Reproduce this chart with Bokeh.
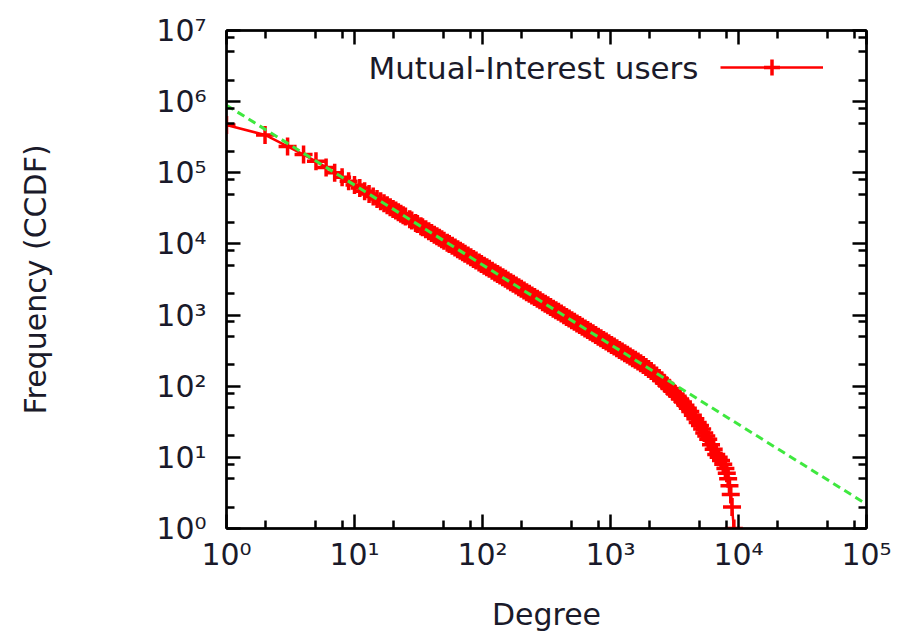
from bokeh.plotting import figure
from bokeh.models import Range1d, FixedTicker, LogAxis, Label, Legend, LegendItem
from bokeh.embed import file_html
from bokeh.resources import INLINE

# ---- data ----
degree = [1, 2, 3, 4, 5, 6, 7, 8, 9, 10,
          11, 12, 13, 14, 15, 16, 17, 18, 19, 20,
          21, 22, 23, 24, 25, 27, 28, 30, 31, 33,
          34, 36, 38, 40, 42, 44, 46, 48, 50, 53,
          55, 58, 61, 64, 67, 70, 73, 77, 81, 85,
          89, 94, 98, 103, 108, 113, 119, 125, 131, 137,
          144, 151, 158, 166, 174, 183, 192, 201, 211, 221,
          232, 243, 255, 268, 281, 295, 309, 324, 340, 357,
          374, 392, 412, 432, 453, 475, 498, 522, 547, 574,
          602, 632, 663, 695, 729, 765, 802, 841, 882, 925,
          970, 1018, 1068, 1120, 1175, 1232, 1292, 1355, 1421, 1490,
          1563, 1640, 1720, 1804, 1892, 1984, 2080, 2180, 2290, 2400,
          2520, 2640, 2770, 2900, 3050, 3200, 3350, 3500, 3680, 3850,
          4020, 4200, 4400, 4600, 4800, 5000, 5200, 5400, 5600, 5800,
          6100, 6400, 6700, 7000, 7300, 7600, 7900, 8100, 8300, 8500,
          8700, 8900, 9200]
ccdf = [470000, 340000, 235000, 180000, 145000, 119000, 100000, 86500, 76000, 67500,
        61000, 55000, 50500, 46300, 42800, 39800, 37200, 34900, 32900, 31000,
        29400, 27900, 26600, 25300, 24200, 22200, 21300, 19700, 19000, 17700,
        17100, 16100, 15100, 14300, 13500, 12800, 12200, 11650, 11100, 10400,
        10000, 9420, 8900, 8430, 8020, 7620, 7280, 6860, 6490, 6140,
        5830, 5480, 5240, 4950, 4700, 4470, 4210, 3980, 3790, 3600,
        3400, 3230, 3060, 2900, 2750, 2600, 2470, 2340, 2220, 2100,
        2000, 1890, 1790, 1690, 1610, 1520, 1445, 1370, 1300, 1230,
        1170, 1110, 1050, 993, 942, 893, 847, 804, 762, 723,
        685, 649, 615, 583, 553, 524, 497, 471, 447, 424,
        402, 380, 361, 342, 324, 307, 291, 276, 262, 248,
        235, 223, 210, 198, 186, 174, 163, 152, 141, 130,
        120, 110, 101, 93, 85, 78, 72, 66, 60, 54,
        49, 44, 39, 35, 31, 28, 25, 22, 20, 18,
        15, 13, 11, 10, 9, 8, 7, 6, 5, 4,
        3, 2, 1]
assert len(degree) == len(ccdf)
fit_x = [1, 100000]
fit_y = [890000, 2.2]

x_tick_values = [1, 10, 100, 1000, 10000, 100000]
x_tick_labels = ["10\u2070", "10\u00b9", "10\u00b2", "10\u00b3", "10\u2074", "10\u2075"]
y_tick_values = [1, 10, 100, 1000, 10000, 100000, 1000000, 10000000]
y_tick_labels = ["10\u2070", "10\u00b9", "10\u00b2", "10\u00b3", "10\u2074",
                 "10\u2075", "10\u2076", "10\u2077"]
minor_steps = [2, 5, 8]

series_label = "Mutual-Interest users"
x_title = "Degree"
y_title = "Frequency (CCDF)"

FONT = "DejaVu Sans"
FS = "30px"

p = figure(width=913, height=642, x_axis_type="log", y_axis_type="log",
           x_range=Range1d(1, 100000), y_range=Range1d(1, 10000000),
           output_backend="svg", toolbar_location=None,
           min_border_left=226, min_border_right=47,
           min_border_top=30, min_border_bottom=114)
p.background_fill_color = "white"
p.border_fill_color = "white"
p.outline_line_color = "black"
p.outline_line_width = 2
p.xgrid.visible = False
p.ygrid.visible = False

x_minor = [s * v for v in x_tick_values[:-1] for s in minor_steps]
y_minor = [s * v for v in y_tick_values[:-1] for s in minor_steps]
xt = FixedTicker(ticks=x_tick_values, minor_ticks=x_minor)
yt = FixedTicker(ticks=y_tick_values, minor_ticks=y_minor)


def style_axis(ax, ticker):
    ax.ticker = ticker
    ax.axis_line_color = "black"
    ax.axis_line_width = 2.5
    ax.major_tick_line_color = "black"
    ax.major_tick_line_width = 2.5
    ax.minor_tick_line_color = "black"
    ax.minor_tick_line_width = 2.5
    ax.major_tick_in = 14
    ax.major_tick_out = 0
    ax.minor_tick_in = 8
    ax.minor_tick_out = 0
    ax.major_label_text_font = FONT
    ax.major_label_text_font_size = FS
    ax.major_label_text_color = "#1a1a2a"
    ax.axis_label_text_font = FONT
    ax.axis_label_text_font_size = FS
    ax.axis_label_text_font_style = "normal"
    ax.axis_label_text_color = "#1a1a2a"


xa = p.xaxis[0]
ya = p.yaxis[0]
style_axis(xa, xt)
style_axis(ya, yt)
xa.major_label_overrides = dict(zip(x_tick_values, x_tick_labels))
ya.major_label_overrides = dict(zip(y_tick_values, y_tick_labels))
xa.axis_label = x_title
ya.axis_label = y_title
xa.major_label_standoff = 8
xa.axis_label_standoff = 22
ya.major_label_standoff = 20
ya.axis_label_standoff = 100

# mirrored tick marks on top and right (no visible labels)
top_ax = LogAxis()
right_ax = LogAxis()
style_axis(top_ax, xt)
style_axis(right_ax, yt)
for ax, vals in ((top_ax, x_tick_values), (right_ax, y_tick_values)):
    ax.major_label_overrides = {v: " " for v in vals}
    ax.major_label_text_font_size = "10px"
    ax.major_label_standoff = 0
p.add_layout(top_ax, "above")
p.add_layout(right_ax, "right")

r_line = p.line(degree, ccdf, line_color="#ff0000", line_width=2.5)
r_pts = p.scatter(degree, ccdf, marker="cross", size=18, line_color="#ff0000",
                  line_width=3.5)
r_fit = p.line(fit_x, fit_y, line_color="#3fe83f", line_width=3,
               line_dash="8 5")

legend = Legend(items=[LegendItem(label=" ", renderers=[r_line, r_pts])],
                location=(494, 441), padding=0, margin=0, spacing=0,
                glyph_width=103, glyph_height=40, label_width=0,
                label_standoff=0, border_line_color=None,
                background_fill_alpha=0, label_text_font_size="10px")
p.add_layout(legend)

lab = Label(x=472, y=461, x_units="screen", y_units="screen",
            text=series_label, text_font=FONT, text_font_size="31px",
            text_color="#1a1a2a", text_align="right", text_baseline="middle")
p.add_layout(lab)

open("out.html", "w").write(file_html(p, INLINE))
